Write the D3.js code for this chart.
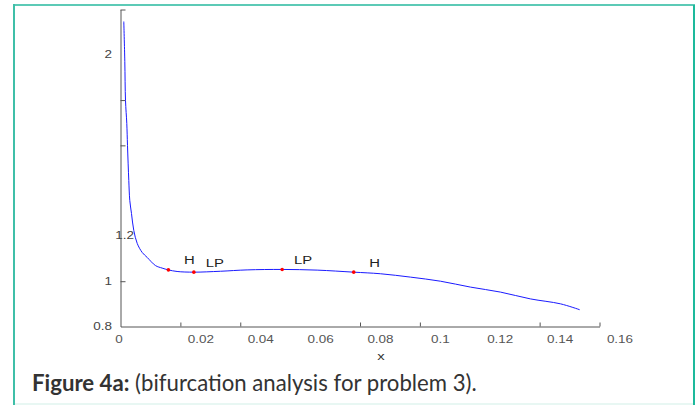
<!DOCTYPE html>
<html>
<head>
<meta charset="utf-8">
<script src="https://cdn.jsdelivr.net/npm/d3@7/dist/d3.min.js"></script>
<style>
  html, body { margin: 0; padding: 0; background: #fff; }
  svg { display: block; }
</style>
</head>
<body>
<svg id="chart" width="699" height="405"></svg>
<script>
// Equilibrium branch of the continuation run (parameter x vs. state)
const branchX = [0.0011, 0.00144, 0.00167, 0.0021, 0.00234, 0.00277, 0.0031, 0.00367,
  0.00444, 0.00558, 0.00725, 0.00892, 0.0117, 0.0139, 0.0160, 0.0189, 0.0245, 0.0334,
  0.0423, 0.0540, 0.0657, 0.0779, 0.0868, 0.0969, 0.1069, 0.1169, 0.1269, 0.1369,
  0.1470, 0.1534];
const branchY = [2.147, 1.970, 1.798, 1.697, 1.599, 1.445, 1.357, 1.299,
  1.224, 1.167, 1.127, 1.105, 1.069, 1.058, 1.050, 1.043, 1.040, 1.044,
  1.050, 1.052, 1.049, 1.040, 1.033, 1.018, 1.000, 0.974, 0.952, 0.922,
  0.900, 0.874];

// Special points detected on the branch (Hopf and limit points)
const pointLabels = ["H", "LP", "LP", "H"];
const pointX = [0.0160, 0.0245, 0.0540, 0.0779];
const pointY = [1.050, 1.040, 1.052, 1.040];

// Axis ticks and labels
const xTickMarks = [0.02, 0.04, 0.08, 0.1, 0.14, 0.16];
const xTickValues = [0, 0.02, 0.04, 0.06, 0.08, 0.1, 0.12, 0.14, 0.16];
const xTickLabels = ["0", "0.02", "0.04", "0.06", "0.08", "0.1", "0.12", "0.14", "0.16"];
const yTickMarks = [1.0, 1.6, 1.8, 2.2];
const yTickValues = [0.8, 1.0, 1.2, 2.0];
const yTickLabels = ["0.8", "1", "1.2", "2"];
const xAxisTitle = "x";
const captionBold = "Figure 4a:";
const captionText = " (bifurcation analysis for problem 3).";

const svg = d3.select("#chart");

// Frame of the figure box
svg.append("rect").attr("x", 13).attr("y", 4).attr("width", 682).attr("height", 2).attr("fill", "#5ccab6");
svg.append("rect").attr("x", 13).attr("y", 4).attr("width", 2).attr("height", 401).attr("fill", "#3fbfa8");
svg.append("rect").attr("x", 693).attr("y", 5).attr("width", 2).attr("height", 400).attr("fill", "#1db99c");
svg.append("rect").attr("x", 15).attr("y", 403).attr("width", 678).attr("height", 2).attr("fill", "#e8f7f3");

const x = d3.scaleLinear().domain([0, 0.16]).range([120.5, 599.5]);
const y = d3.scaleLinear().domain([0.8, 2.2]).range([326.5, 9.5]);

const axisColor = "#555";
const labelFont = "'Liberation Sans', Arial, sans-serif";
const stretch = 1.35;

// Axes: tick marks point inward
const gx = svg.append("g").attr("transform", `translate(0,${y(0.8)})`)
  .call(d3.axisBottom(x).tickValues(xTickMarks).tickSize(-4).tickSizeOuter(0).tickFormat(""));
const gy = svg.append("g").attr("transform", `translate(${x(0)},0)`)
  .call(d3.axisLeft(y).tickValues(yTickMarks).tickSize(-5).tickSizeOuter(0).tickFormat(""));
[gx, gy].forEach(g => {
  g.selectAll("path, line").attr("stroke", axisColor).attr("stroke-width", 1);
});

// Horizontally stretched label helper
function label(px, py, txt, anchor, size, color) {
  svg.append("text")
    .attr("transform", `translate(${px},${py}) scale(${stretch},1)`)
    .attr("text-anchor", anchor)
    .attr("font-family", labelFont)
    .attr("font-size", size)
    .attr("fill", color)
    .text(txt);
}

// x tick labels sit to the right of their ticks (except the origin)
xTickValues.forEach((v, i) => {
  const px = v === 0 ? x(0) - 1.5 : x(v) + 20.5;
  label(px, y(0.8) + 16.5, xTickLabels[i], "middle", 10, "#555");
});

// y tick labels; the 1.2 label is drawn over the axis line
yTickValues.forEach((v, i) => {
  const dx = v === 1.2 ? 22 : 0;
  label(112 + dx, y(v) + 3.5, yTickLabels[i], "end", 10, "#444");
});

label(381, 360, xAxisTitle, "middle", 11, "#333");

// Branch curve
const line = d3.line()
  .x((d, i) => x(branchX[i]))
  .y((d, i) => y(branchY[i]))
  .curve(d3.curveCatmullRom.alpha(0.5));
svg.append("path")
  .datum(branchX)
  .attr("d", line)
  .attr("fill", "none")
  .attr("stroke", "#1a1aff")
  .attr("stroke-width", 1);

// Special points and their labels
pointX.forEach((v, i) => {
  svg.append("circle")
    .attr("cx", x(v)).attr("cy", y(pointY[i]))
    .attr("r", 1.8).attr("fill", "#f00");
  label(x(v) + 21, y(pointY[i]) - 5.5, pointLabels[i], "middle", 11, "#222");
});

// Caption
const cap = svg.append("text")
  .attr("x", 32).attr("y", 391)
  .attr("font-family", "Lato, 'Open Sans', sans-serif")
  .attr("font-size", 20)
  .attr("fill", "#333");
cap.append("tspan").attr("font-weight", "bold").text(captionBold);
cap.append("tspan").text(captionText);
const w = cap.node().getComputedTextLength();
cap.attr("font-size", 20 * 445 / w);
</script>
</body>
</html>
